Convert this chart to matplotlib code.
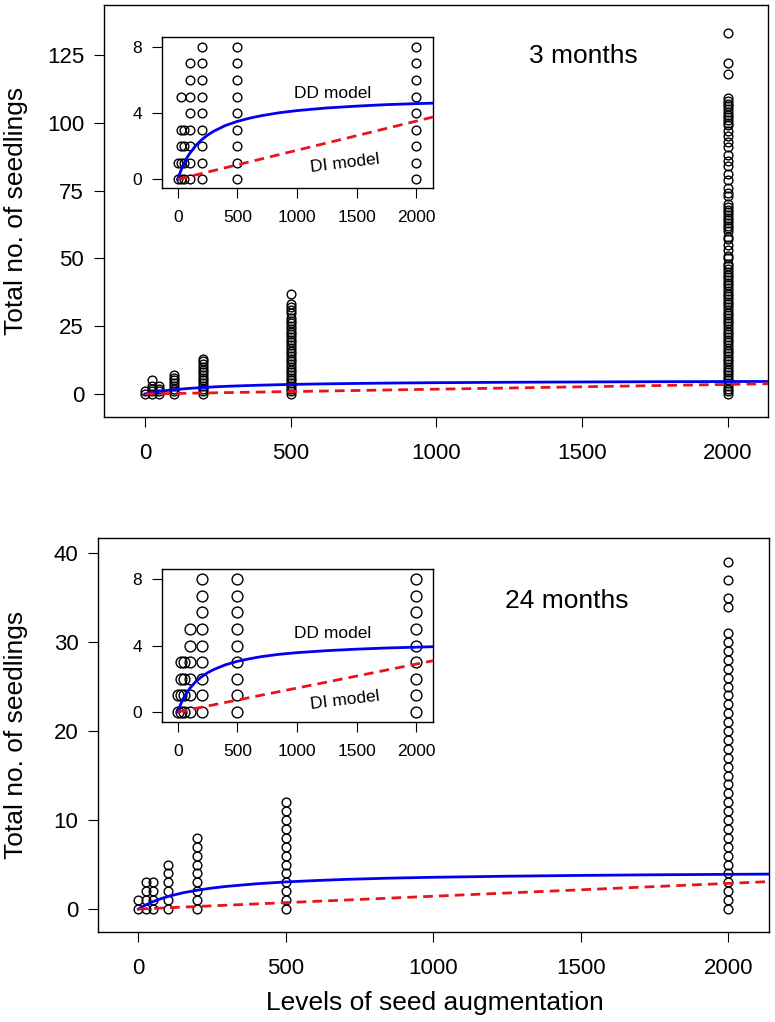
import matplotlib.pyplot as plt

plt.rcParams['font.family'] = ['Liberation Sans', 'DejaVu Sans']

# seed augmentation levels (x)
levels = [0, 25, 50, 100, 200, 500, 2000]

# total seedlings per plot, 3 months, one list per level
m3_counts = [
    [0, 1],
    [0, 1, 2, 3, 5],
    [0, 1, 2, 3],
    [0, 1, 2, 3, 4, 5, 6, 7],
    [0, 1, 2, 3, 4, 5, 6, 7, 8, 9, 10, 11, 12, 13],
    [0, 1, 2, 3, 4, 5, 6, 7, 8, 9, 10, 11, 12, 13, 14, 15, 16, 17, 18, 19,
     20, 21, 22, 23, 24, 25, 26, 27, 28, 30, 31, 32, 33, 37],
    [0, 1, 2, 3, 4, 5, 6, 7, 8, 9, 10, 11, 12, 13, 14, 15, 16, 17, 18, 19,
     20, 21, 22, 23, 24, 25, 26, 27, 28, 29, 30, 31, 32, 33, 34, 35, 36, 37,
     38, 39, 40, 41, 42, 43, 44, 45, 46, 47, 48, 50, 51, 53, 55, 57, 58, 60,
     61, 62, 63, 64, 65, 66, 67, 68, 69, 70, 73, 74, 76, 79, 81, 84, 86, 88,
     91, 93, 95, 97, 99, 100, 101, 102, 103, 104, 105, 106, 107, 108, 109,
     118, 122, 133],
]

# total seedlings per plot, 24 months
m24_counts = [
    [0, 1],
    [0, 1, 2, 3],
    [0, 1, 2, 3],
    [0, 1, 2, 3, 4, 5],
    [0, 1, 2, 3, 4, 5, 6, 7, 8],
    [0, 1, 2, 3, 4, 5, 6, 7, 8, 9, 10, 11, 12],
    [0, 1, 2, 3, 4, 5, 6, 7, 8, 9, 10, 11, 12, 13, 14, 15, 16, 17, 18, 19,
     20, 21, 22, 23, 24, 25, 26, 27, 28, 29, 30, 31, 34, 35, 37, 39],
]

# fitted model curves
curve_x = [0, 10, 25, 50, 75, 100, 150, 200, 250, 300, 400, 500, 600, 700, 850,
           1000, 1250, 1500, 1750, 2000, 2150]
dd_3m = [0, 0.22, 0.5, 0.92, 1.27, 1.56, 2.03, 2.39, 2.67, 2.9, 3.25, 3.5, 3.69,
         3.84, 4.02, 4.15, 4.31, 4.42, 4.51, 4.57, 4.6]
dd_24m = [0, 0.2, 0.47, 0.84, 1.15, 1.41, 1.82, 2.12, 2.36, 2.55, 2.84, 3.05, 3.2,
          3.33, 3.47, 3.57, 3.69, 3.78, 3.85, 3.9, 3.93]
di_x = [0, 2150]
di_3m = [0, 3.78]
di_24m = [0, 3.1]

W, H = 775, 1022
fig = plt.figure(figsize=(W / 100, H / 100), dpi=100)


def box(l, t, r, b):
    return [l / W, 1 - b / H, (r - l) / W, (b - t) / H]


def draw(ax, counts, dd, di, ms, fs):
    for lev, cnt in zip(levels, counts):
        ax.plot([lev] * len(cnt), cnt, 'o', mfc='none', mec='black', ms=ms, mew=1.0, zorder=2)
    ax.plot(curve_x, dd, color='#0000ee', lw=2, zorder=3)
    ax.plot(di_x, di, color='#e8141c', lw=2, ls=(0, (3.5, 2.2)), zorder=3)
    ax.tick_params(direction='out', length=7, width=0.8, labelsize=fs, pad=7,
                   top=False, right=False)
    for s in ax.spines.values():
        s.set_linewidth(1.0)


# ---- top panel: 3 months
ax1 = fig.add_axes(box(103.5, 5, 768, 417))
draw(ax1, m3_counts, dd_3m, di_3m, 6.3, 16)
ax1.set_xlim(-142, 2137)
ax1.set_ylim(-8.5, 143.4)
ax1.set_xticks([0, 500, 1000, 1500, 2000])
ax1.set_yticks([0, 25, 50, 75, 100, 125])
ax1.tick_params(axis='x', pad=12)
ax1.text(1503, 124.6, '3 months', fontsize=19, ha='center', va='center')

in1 = fig.add_axes(box(161.7, 37, 433, 188))
draw(in1, m3_counts, dd_3m, di_3m, 6.3, 12.5)
in1.set_xlim(-134, 2139)
in1.set_ylim(-0.52, 8.59)
in1.set_xticks([0, 500, 1000, 1500, 2000])
in1.set_yticks([0, 4, 8])
in1.tick_params(axis='x', pad=9)
in1.text(1300, 5.2, 'DD model', fontsize=12.5, ha='center', va='center')
in1.text(1400, 0.98, 'DI model', fontsize=12.5, ha='center', va='center', rotation=7)

# ---- bottom panel: 24 months
ax2 = fig.add_axes(box(98, 538, 769, 932))
draw(ax2, m24_counts, dd_24m, di_24m, 6.3, 16)
ax2.set_xlim(-137, 2138)
ax2.set_ylim(-2.58, 41.7)
ax2.set_xticks([0, 500, 1000, 1500, 2000])
ax2.set_yticks([0, 10, 20, 30, 40])
ax2.tick_params(axis='x', pad=12)
ax2.text(1453, 34.6, '24 months', fontsize=19, ha='center', va='center')

in2 = fig.add_axes(box(161.7, 569, 433, 722))
draw(in2, m24_counts, dd_24m, di_24m, 7.8, 12.5)
in2.set_xlim(-134, 2139)
in2.set_ylim(-0.6, 8.6)
in2.set_xticks([0, 500, 1000, 1500, 2000])
in2.set_yticks([0, 4, 8])
in2.tick_params(axis='x', pad=9)
in2.text(1300, 4.75, 'DD model', fontsize=12.5, ha='center', va='center')
in2.text(1400, 0.68, 'DI model', fontsize=12.5, ha='center', va='center', rotation=7)

fig.text(16 / W, 1 - 211 / H, 'Total no. of seedlings', fontsize=19, rotation=90,
         ha='center', va='center')
fig.text(16 / W, 1 - 735 / H, 'Total no. of seedlings', fontsize=19, rotation=90,
         ha='center', va='center')
fig.text(435 / W, 1 - 1003 / H, 'Levels of seed augmentation', fontsize=19,
         ha='center', va='center')

fig.savefig('out.png', dpi=100)
